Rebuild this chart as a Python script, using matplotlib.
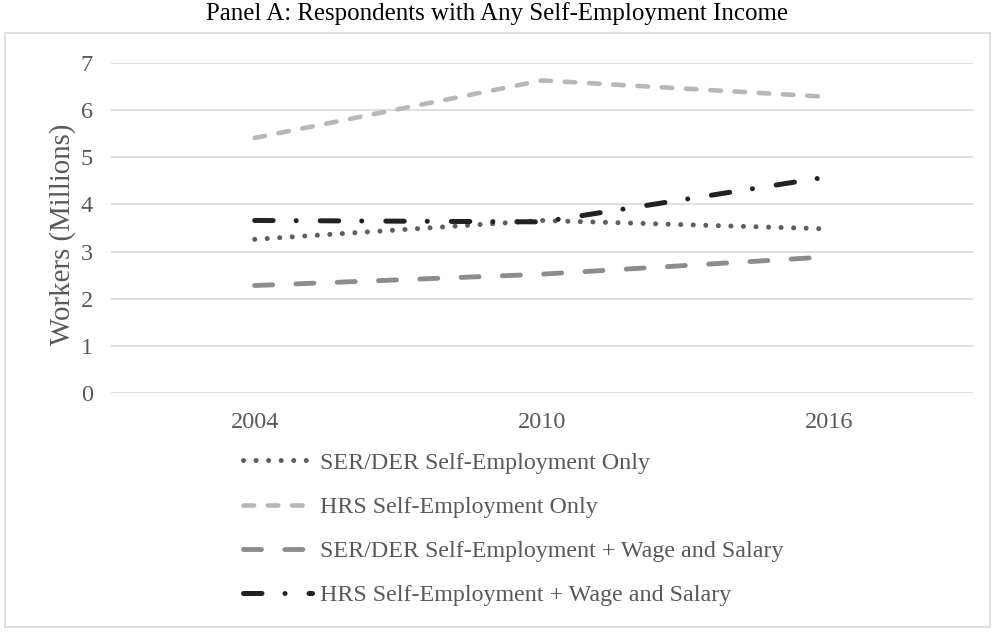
import matplotlib
matplotlib.use("Agg")
import matplotlib.pyplot as plt
from matplotlib.patches import Rectangle

# Survey years and worker counts (millions)
years = ["2004", "2010", "2016"]
serder_se_only = [3.26, 3.66, 3.48]
hrs_se_only = [5.41, 6.63, 6.28]
serder_se_wage = [2.28, 2.52, 2.89]
hrs_se_wage = [3.66, 3.63, 4.59]

series_labels = [
    "SER/DER Self-Employment Only",
    "HRS Self-Employment Only",
    "SER/DER Self-Employment + Wage and Salary",
    "HRS Self-Employment + Wage and Salary",
]
yticks = [0, 1, 2, 3, 4, 5, 6, 7]

plt.rcParams["font.family"] = ["Liberation Serif", "DejaVu Serif"]
text_gray = "#595959"
grid_gray = "#d9d9d9"

fig = plt.figure(figsize=(9.95, 6.32), dpi=100)
fig.patch.set_facecolor("white")

# Outer chart frame
fig.patches.append(Rectangle((5 / 995, 1 - 627 / 632), 985 / 995, 594 / 632,
                             transform=fig.transFigure, fill=False,
                             edgecolor=grid_gray, linewidth=1.2))

fig.text(0.5, 1 - 14 / 632, "Panel A: Respondents with Any Self-Employment Income",
         ha="center", va="center", fontsize=17.9, color="black")

ax = fig.add_axes([111 / 995, 1 - 393 / 632, 862 / 995, 330 / 632])
x = list(range(len(years)))

ax.plot(x, serder_se_only, color="#5e5e5e", linewidth=3.6,
        linestyle=(0, (0.01, 2.5)), dash_capstyle="round", label=series_labels[0])
ax.plot(x, hrs_se_only, color="#b7b7b7", linewidth=3.3,
        linestyle=(0, (2.3, 3.0)), dash_capstyle="round", label=series_labels[1])
ax.plot(x, serder_se_wage, color="#8c8c8c", linewidth=3.5,
        linestyle=(0, (3.7, 4.8)), dash_capstyle="round", label=series_labels[2])
ax.plot(x, hrs_se_wage, color="#222222", linewidth=3.6,
        linestyle=(0, (3.7, 4.6, 0.01, 4.8)), dash_capstyle="round", label=series_labels[3])

ax.set_xlim(-0.5, 2.5)
ax.set_ylim(0, 7)
ax.set_yticks(yticks)
ax.set_yticklabels([str(v) for v in yticks])
ax.set_xticks(x)
ax.set_xticklabels(years)
ax.grid(axis="y", color=grid_gray, linewidth=1.2)
ax.set_axisbelow(True)
for s in ax.spines.values():
    s.set_visible(False)
ax.tick_params(axis="both", length=0, labelsize=17.5, colors=text_gray)
ax.tick_params(axis="y", pad=13)
ax.tick_params(axis="x", pad=14)
ax.set_ylabel("Workers (Millions)", fontsize=20.8, color=text_gray)
ax.yaxis.set_label_coords(-0.041, 0.482)

handles, labels = ax.get_legend_handles_labels()
leg = fig.legend(handles, labels, loc="upper left",
                 bbox_to_anchor=(243 / 995, 1 - 452 / 632),
                 frameon=False, fontsize=17.3, handlelength=2.87,
                 handletextpad=0.35, labelspacing=0.93, borderaxespad=0,
                 borderpad=0)
for t in leg.get_texts():
    t.set_color(text_gray)

fig.savefig("out.png", dpi=100, facecolor="white")
